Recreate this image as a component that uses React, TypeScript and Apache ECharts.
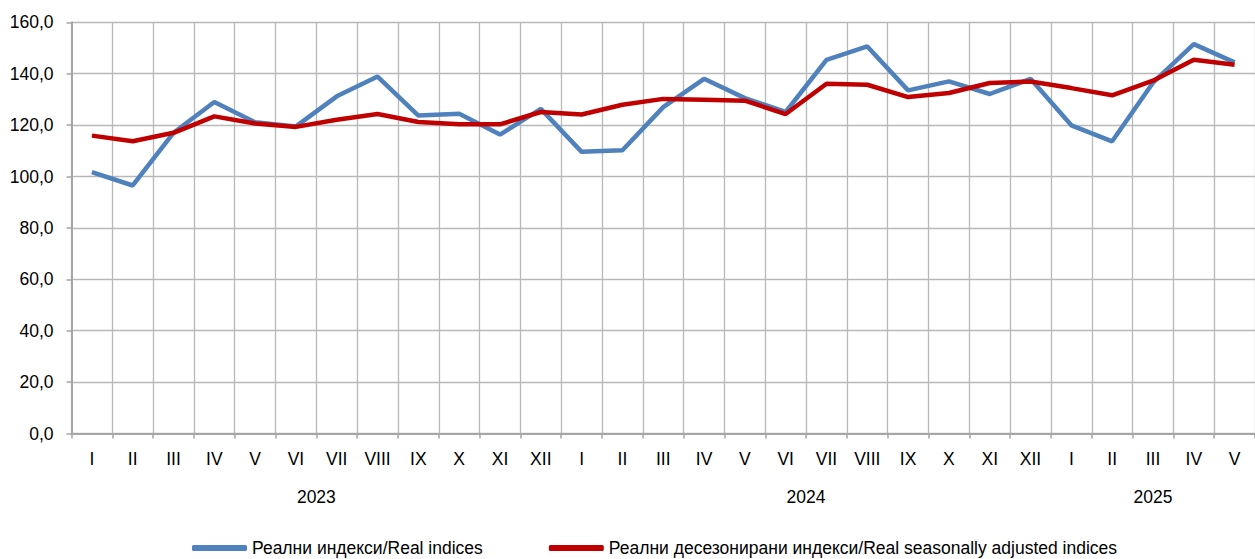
import React, { useEffect, useRef } from "react";
import * as echarts from "echarts";

const months: string[] = [
  "I", "II", "III", "IV", "V", "VI", "VII", "VIII", "IX", "X", "XI", "XII",
  "I", "II", "III", "IV", "V", "VI", "VII", "VIII", "IX", "X", "XI", "XII",
  "I", "II", "III", "IV", "V",
];

const years: string[] = ["2023", "2024", "2025"];
// centre of each year's group, in category units from the start of the axis
const yearCentres: number[] = [6, 18, 26.5];

const realIndices: number[] = [
  101.7, 96.5, 117.0, 129.0, 121.1, 119.5, 131.2, 138.9, 123.7, 124.4, 116.3, 126.3,
  109.6, 110.2, 127.0, 138.0, 130.5, 125.1, 145.4, 150.6, 133.5, 137.0, 132.1, 138.0,
  119.9, 113.7, 136.5, 151.5, 144.4,
];

const seasonallyAdjusted: number[] = [
  115.9, 113.7, 117.0, 123.4, 120.6, 119.3, 122.1, 124.3, 121.2, 120.3, 120.3, 125.1,
  124.1, 127.9, 130.2, 129.9, 129.5, 124.3, 136.1, 135.7, 130.9, 132.5, 136.4, 137.0,
  134.4, 131.6, 137.3, 145.4, 143.5,
];

const seriesNames: string[] = [
  "Реални индекси/Real indices",
  "Реални десезонирани индекси/Real seasonally adjusted indices",
];

const FONT = "'Liberation Sans', Arial, sans-serif";
const FS = 17.5;

export default function App() {
  const ref = useRef<HTMLDivElement>(null);

  useEffect(() => {
    if (!ref.current) return;
    const chart = echarts.init(ref.current, undefined, { renderer: "svg" });
    const gridLeft = 71.5;
    const catW = 41.12;
    chart.setOption({
      animation: false,
      textStyle: { fontFamily: FONT },
      grid: {
        left: gridLeft,
        top: 22.3,
        width: catW * months.length,
        height: 411.2,
        containLabel: false,
      },
      legend: {
        left: 192,
        top: 539,
        padding: 0,
        itemWidth: 55,
        itemHeight: 6,
        itemGap: 66,
        icon: "roundRect",
        textStyle: { fontSize: FS, color: "#000", fontFamily: FONT },
        data: seriesNames,
      },
      xAxis: [
        {
          type: "category",
          data: months,
          boundaryGap: true,
          axisLine: { show: true, lineStyle: { color: "#a6a6a6", width: 2 } },
          axisTick: { show: true, interval: 0, length: 5, lineStyle: { color: "#a6a6a6", width: 1.5 } },
          axisLabel: { interval: 0, fontSize: FS, color: "#000", margin: 16, fontFamily: FONT },
          splitLine: { show: true, interval: 0, lineStyle: { color: "#b8b8b8", width: 1.3 } },
        },
        {
          type: "value",
          position: "bottom",
          min: 0,
          max: months.length,
          offset: 38,
          axisLine: { show: false },
          axisTick: { show: false },
          splitLine: { show: false },
          axisLabel: {
            customValues: yearCentres,
            fontSize: FS,
            color: "#000",
            margin: 16,
            fontFamily: FONT,
            formatter: (v: number) => {
              const i = yearCentres.indexOf(v);
              return i >= 0 ? years[i] : "";
            },
          },
        },
      ],
      yAxis: {
        type: "value",
        min: 0,
        max: 160,
        interval: 20,
        axisLine: { show: true, lineStyle: { color: "#a6a6a6", width: 2 } },
        axisTick: { show: true, length: 5, lineStyle: { color: "#a6a6a6", width: 1.5 } },
        axisLabel: {
          fontSize: FS,
          color: "#000",
          margin: 18,
          fontFamily: FONT,
          formatter: (v: number) => v.toFixed(1).replace(".", ","),
        },
        splitLine: { show: true, lineStyle: { color: "#b8b8b8", width: 1.3 } },
      },
      series: [
        {
          name: seriesNames[0],
          type: "line",
          data: realIndices,
          symbol: "none",
          lineStyle: { color: "#4f81bd", width: 4.5 },
          itemStyle: { color: "#4f81bd" },
        },
        {
          name: seriesNames[1],
          type: "line",
          data: seasonallyAdjusted,
          symbol: "none",
          lineStyle: { color: "#c00000", width: 4.5 },
          itemStyle: { color: "#c00000" },
        },
      ],
    });
    return () => chart.dispose();
  }, []);

  return (
    <div
      ref={ref}
      style={{ position: "fixed", left: 0, top: 0, width: 1255, height: 559, background: "#fff" }}
    />
  );
}
